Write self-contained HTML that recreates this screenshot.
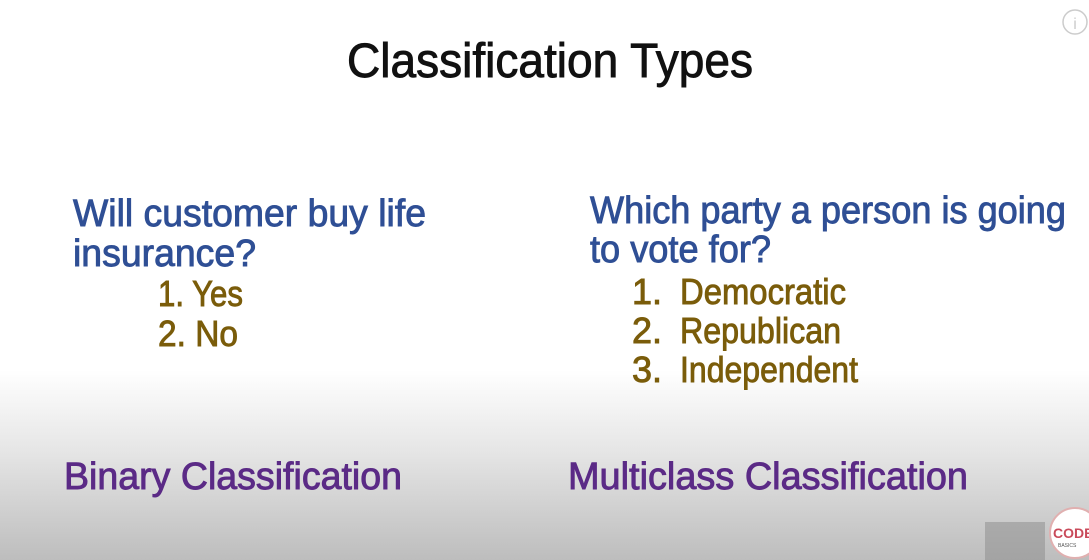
<!DOCTYPE html>
<html><head><meta charset="utf-8"><style>
html,body{margin:0;padding:0;}
body{width:1089px;height:560px;overflow:hidden;background:linear-gradient(to bottom,#fff 0,#fff 370px,#e6e6e6 450px,#bdbdbd 560px);}
svg{position:absolute;left:0;top:0;}
text{font-family:"Liberation Sans",sans-serif;stroke-width:0.9px;}
</style></head><body>
<svg width="1089" height="560">
<text x="347" y="77" font-size="48" fill="#111" stroke="#111" textLength="406" lengthAdjust="spacingAndGlyphs">Classification Types</text>
<g fill="#2f4f95" stroke="#2f4f95" font-size="38">
<text x="73" y="226" textLength="353" lengthAdjust="spacingAndGlyphs">Will customer buy life</text>
<text x="73" y="266" textLength="183" lengthAdjust="spacingAndGlyphs">insurance?</text>
<text x="590" y="223" textLength="476" lengthAdjust="spacingAndGlyphs">Which party a person is going</text>
<text x="590" y="262" textLength="181" lengthAdjust="spacingAndGlyphs">to vote for?</text>
</g>
<g fill="#7a5c0a" stroke="#7a5c0a" font-size="36">
<text x="158" y="306" textLength="85" lengthAdjust="spacingAndGlyphs">1. Yes</text>
<text x="158" y="346" textLength="80" lengthAdjust="spacingAndGlyphs">2. No</text>
<text x="632" y="304">1.</text>
<text x="680" y="304" textLength="166" lengthAdjust="spacingAndGlyphs">Democratic</text>
<text x="632" y="343">2.</text>
<text x="680" y="343" textLength="161" lengthAdjust="spacingAndGlyphs">Republican</text>
<text x="632" y="382">3.</text>
<text x="680" y="382" textLength="178" lengthAdjust="spacingAndGlyphs">Independent</text>
</g>
<g fill="#5b2a86" stroke="#5b2a86" font-size="38">
<text x="64" y="489" textLength="338" lengthAdjust="spacingAndGlyphs">Binary Classification</text>
<text x="568" y="489" textLength="400" lengthAdjust="spacingAndGlyphs">Multiclass Classification</text>
</g>
<g>
<circle cx="1075" cy="22" r="12" fill="none" stroke="#ccc" stroke-width="1.5"/>
<text x="1075" y="29" font-size="16" fill="#ccc" text-anchor="middle" stroke="none">i</text>
</g>
<rect x="985" y="522" width="60" height="38" fill="#8a8a8a" opacity="0.5"/>
<g>
<circle cx="1075" cy="533" r="25" fill="#fff" stroke="#e0b0b0" stroke-width="2"/>
<text x="1053" y="538" font-size="14" font-weight="bold" fill="#c94a5a" stroke="none">CODE</text>
<text x="1058" y="547" font-size="5" fill="#555" stroke="none">BASICS</text>
</g>
</svg>
</body></html>
